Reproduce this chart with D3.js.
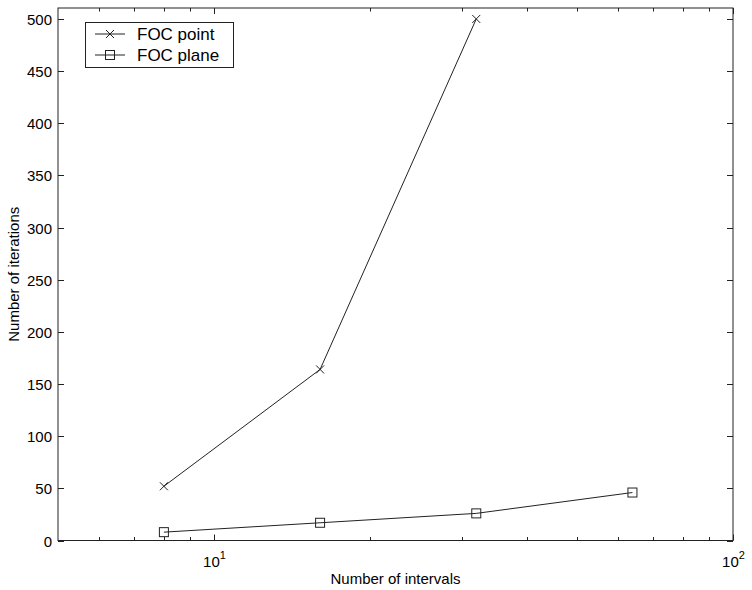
<!DOCTYPE html>
<html>
<head>
<meta charset="utf-8">
<script src="https://d3js.org/d3.v7.min.js"></script>
<style>
  body { margin: 0; background: #fff; }
  text { font-family: "Liberation Sans", Arial, sans-serif; fill: #000; }
</style>
</head>
<body>
<div id="chart"></div>
<script>
// data
var intervals = [8, 16, 32, 64];
var focPoint = [52, 164, 500];
var focPlane = [8, 17, 26, 46];
var yTicks = [0, 50, 100, 150, 200, 250, 300, 350, 400, 450, 500];
var xMajor = [10, 100];
var xMinor = [6, 7, 8, 9, 20, 30, 40, 50, 60, 70, 80, 90];
var seriesNames = ["FOC point", "FOC plane"];

var W = 752, H = 590;
var margin = {top: 8, right: 19, bottom: 49.5, left: 58};
var width = W - margin.left - margin.right,
    height = H - margin.top - margin.bottom;

var svg = d3.select("#chart").append("svg")
    .attr("width", W).attr("height", H);
var g = svg.append("g")
    .attr("transform", "translate(" + margin.left + "," + margin.top + ")");

var x = d3.scaleLog().domain([5, 100]).range([0, width]);
var y = d3.scaleLinear().domain([0, 510.5]).range([height, 0]);

var ink = "#222";

// frame
g.append("rect")
    .attr("width", width).attr("height", height)
    .attr("fill", "none").attr("stroke", ink).attr("stroke-width", 1);

// y ticks, both sides, pointing in
yTicks.forEach(function(v) {
    var yy = Math.round(y(v)) + 0.5;
    g.append("line").attr("x1", 0).attr("x2", 6).attr("y1", yy).attr("y2", yy).attr("stroke", ink);
    g.append("line").attr("x1", width - 6).attr("x2", width).attr("y1", yy).attr("y2", yy).attr("stroke", ink);
    g.append("text")
        .attr("x", -6).attr("y", yy)
        .attr("dy", "0.35em")
        .attr("text-anchor", "end")
        .style("font-size", "15px")
        .text(v);
});

// x ticks
xMinor.forEach(function(v) {
    var xx = Math.round(x(v)) + 0.5;
    g.append("line").attr("x1", xx).attr("x2", xx).attr("y1", height).attr("y2", height - 3.5).attr("stroke", ink);
    g.append("line").attr("x1", xx).attr("x2", xx).attr("y1", 0).attr("y2", 3.5).attr("stroke", ink);
});
xMajor.forEach(function(v) {
    var xx = Math.round(x(v)) + 0.5;
    g.append("line").attr("x1", xx).attr("x2", xx).attr("y1", height).attr("y2", height - 6).attr("stroke", ink);
    g.append("line").attr("x1", xx).attr("x2", xx).attr("y1", 0).attr("y2", 6).attr("stroke", ink);
    var t = g.append("text")
        .attr("x", xx).attr("y", height + 26)
        .attr("text-anchor", "middle")
        .style("font-size", "15px");
    t.append("tspan").text("10");
    t.append("tspan").attr("dy", "-8").style("font-size", "11px").text(Math.round(Math.log10(v)));
});

// axis labels
g.append("text")
    .attr("x", width / 2).attr("y", height + 43)
    .attr("text-anchor", "middle")
    .style("font-size", "15px")
    .text("Number of intervals");
g.append("text")
    .attr("transform", "rotate(-90)")
    .attr("x", -height / 2).attr("y", -39)
    .attr("text-anchor", "middle")
    .style("font-size", "15px")
    .text("Number of iterations");

var line = d3.line()
    .x(function(d) { return x(d[0]); })
    .y(function(d) { return y(d[1]); });

var pointData = focPoint.map(function(v, i) { return [intervals[i], v]; });
var planeData = focPlane.map(function(v, i) { return [intervals[i], v]; });

function cross(sel, cx, cy) {
    var s = 4;
    sel.append("path")
        .attr("d", "M" + (cx - s) + "," + (cy - s) + "L" + (cx + s) + "," + (cy + s) +
                   "M" + (cx - s) + "," + (cy + s) + "L" + (cx + s) + "," + (cy - s))
        .attr("stroke", ink).attr("fill", "none");
}
function square(sel, cx, cy) {
    var s = 4.5;
    sel.append("rect")
        .attr("x", cx - s).attr("y", cy - s)
        .attr("width", 2 * s).attr("height", 2 * s)
        .attr("fill", "none").attr("stroke", ink);
}

g.append("path").datum(pointData).attr("d", line)
    .attr("fill", "none").attr("stroke", ink).attr("stroke-width", 1);
pointData.forEach(function(d) { cross(g, x(d[0]), y(d[1])); });

g.append("path").datum(planeData).attr("d", line)
    .attr("fill", "none").attr("stroke", ink).attr("stroke-width", 1);
planeData.forEach(function(d) { square(g, x(d[0]), y(d[1])); });

// legend
var lg = svg.append("g");
lg.append("rect")
    .attr("x", 85.5).attr("y", 22.5).attr("width", 148).attr("height", 45)
    .attr("fill", "#fff").attr("stroke", ink);
seriesNames.forEach(function(name, i) {
    var ly = 34 + i * 21;
    lg.append("line").attr("x1", 95).attr("x2", 125).attr("y1", ly).attr("y2", ly).attr("stroke", ink);
    if (i === 0) cross(lg, 110, ly); else square(lg, 110, ly);
    lg.append("text")
        .attr("x", 137).attr("y", ly)
        .attr("dy", "0.36em")
        .style("font-size", "17px")
        .text(name);
});
</script>
</body>
</html>
